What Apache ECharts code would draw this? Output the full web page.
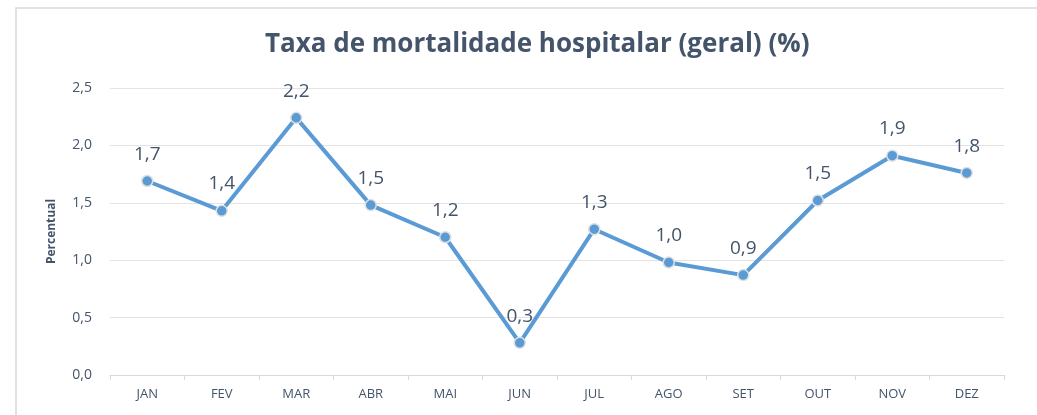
<!DOCTYPE html>
<html><head><meta charset="utf-8">
<script src="https://cdn.jsdelivr.net/npm/echarts@6/dist/echarts.min.js"></script>
<style>html,body{margin:0;padding:0;background:#fff;}#c{width:1037px;height:415px;}</style>
</head><body><div id="c"></div>
<script>
var categories = ['JAN','FEV','MAR','ABR','MAI','JUN','JUL','AGO','SET','OUT','NOV','DEZ'];
var values = [1.69, 1.43, 2.24, 1.48, 1.20, 0.28, 1.27, 0.98, 0.87, 1.52, 1.91, 1.76];
var yTicks = [0, 0.5, 1.0, 1.5, 2.0, 2.5];
var chart = echarts.init(document.getElementById('c'));
function fmt(v){ return v.toFixed(1).replace('.', ','); }
chart.setOption({
  animation: false,
  graphic: [{type:'rect', shape:{x:16,y:8,width:1040,height:420}, style:{fill:'none', stroke:'#D9D9D9', lineWidth:1.5}, silent:true}],
  title: {text:'Taxa de mortalidade hospitalar (geral) (%)', left:260, top:27,
    textStyle:{fontFamily:'Open Sans', fontWeight:'bold', fontSize:26, color:'#44546A'}},
  grid: {left:110, right:33, top:88, bottom:40},
  xAxis: {type:'category', data:categories, boundaryGap:true,
    axisLine:{lineStyle:{color:'#D9D9D9'}}, axisTick:{show:true, lineStyle:{color:'#D9D9D9'}},
    axisLabel:{color:'#44546A', fontFamily:'Open Sans', fontSize:13, margin:13}},
  yAxis: {type:'value', min:0, max:2.5, interval:0.5,
    name:'Percentual', nameLocation:'middle', nameGap:52, nameRotate:90,
    nameTextStyle:{fontFamily:'Open Sans', fontWeight:'bold', fontSize:12, color:'#44546A'},
    axisLine:{show:false}, axisTick:{show:false},
    splitLine:{lineStyle:{color:'#E3E3E3', width:1}},
    axisLabel:{color:'#44546A', fontFamily:'Open Sans', fontSize:14, margin:18,
      formatter:function(v){ return fmt(v); }}},
  series: [{type:'line', data:values, symbol:'circle', symbolSize:11,
    lineStyle:{color:'#5B9BD5', width:4},
    itemStyle:{color:'#5B9BD5', borderColor:'#E0E0E0', borderWidth:1.5},
    label:{show:true, position:'top', distance:11, fontFamily:'Open Sans', fontSize:19, color:'#44546A',
      formatter:function(p){ return fmt(p.value); }}}]
});
</script></body></html>
